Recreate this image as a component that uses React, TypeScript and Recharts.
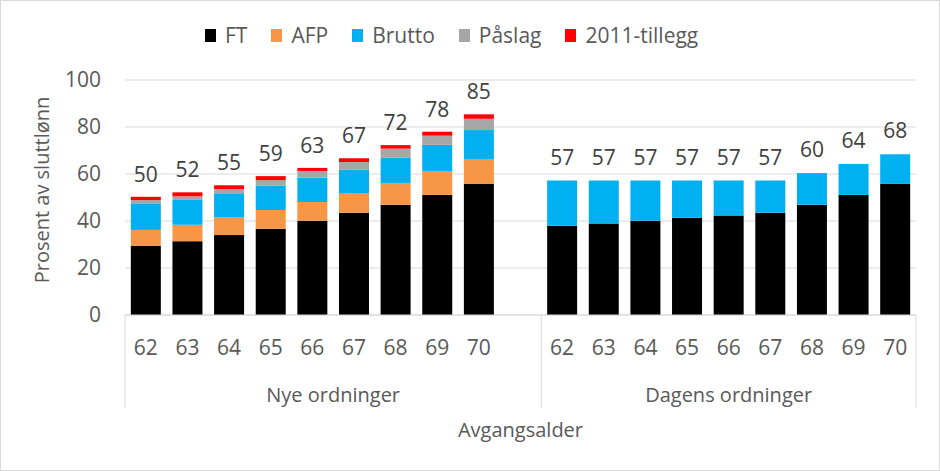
import React from 'react';
import { BarChart, Bar, XAxis, YAxis, CartesianGrid, Legend, LabelList } from 'recharts';

const FONT = '"Open Sans", sans-serif';
const TEXT = '#595959';

const ages = ['62', '63', '64', '65', '66', '67', '68', '69', '70'];
const groups = ['Nye ordninger', 'Dagens ordninger'];
const xTitle = 'Avgangsalder';
const yTitle = 'Prosent av sluttlønn';
const yTicks = [0, 20, 40, 60, 80, 100];

// Nye ordninger
const nyeFT = [29.5, 31.4, 34.0, 36.7, 40.1, 43.5, 46.9, 51.1, 55.8];
const nyeAFP = [6.7, 7.0, 7.5, 8.0, 8.0, 8.4, 9.3, 10.2, 10.6];
const nyeBrutto = [11.3, 10.8, 10.3, 10.3, 10.3, 9.9, 10.7, 11.1, 12.3];
const nyePaslag = [1.4, 1.3, 1.8, 2.4, 2.9, 3.3, 3.9, 3.9, 4.8];
const nyeTillegg = [1.4, 1.7, 1.6, 1.7, 1.3, 1.6, 1.5, 1.7, 1.9];
const nyeTotal = [50, 52, 55, 59, 63, 67, 72, 78, 85];

// Dagens ordninger
const dagensFT = [38.0, 38.9, 40.1, 41.4, 42.3, 43.5, 46.9, 51.1, 55.8];
const dagensBrutto = [19.2, 18.3, 17.1, 15.8, 14.9, 13.7, 13.5, 13.2, 12.6];
const dagensTotal = [57, 57, 57, 57, 57, 57, 60, 64, 68];

const series = [
  { key: 'ft', name: 'FT', color: '#000000' },
  { key: 'afp', name: 'AFP', color: '#F79646' },
  { key: 'brutto', name: 'Brutto', color: '#00B0F0' },
  { key: 'paslag', name: 'Påslag', color: '#A6A6A6' },
  { key: 'tillegg', name: '2011-tillegg', color: '#FF0000' },
];

const data = [
  ...ages.map((age, i) => ({
    age,
    ft: nyeFT[i],
    afp: nyeAFP[i],
    brutto: nyeBrutto[i],
    paslag: nyePaslag[i],
    tillegg: nyeTillegg[i],
    totalNye: nyeTotal[i],
  })),
  { age: '' },
  ...ages.map((age, i) => ({
    age,
    ft: dagensFT[i],
    brutto: dagensBrutto[i],
    totalDagens: dagensTotal[i],
  })),
];

const GroupTick = (props: any) => {
  const { x, y, payload } = props;
  const index = props.index ?? payload?.index;
  const half = payload?.offset || 20.8;
  const last = data.length - 1;
  return (
    <g>
      <text x={x} y={y + 40} textAnchor="middle" fill={TEXT} fontSize={21} fontFamily={FONT}>
        {payload.value}
      </text>
      {index === 0 && <line x1={x - half} x2={x - half} y1={y} y2={y + 93} stroke="#d9d9d9" />}
      {index === 10 && <line x1={x - half} x2={x - half} y1={y} y2={y + 93} stroke="#d9d9d9" />}
      {index === last && <line x1={x + half} x2={x + half} y1={y} y2={y + 93} stroke="#d9d9d9" />}
      {index === 4 && (
        <text x={x + half} y={y + 87} textAnchor="middle" fill={TEXT} fontSize={20} fontFamily={FONT}>
          {groups[0]}
        </text>
      )}
      {index === 14 && (
        <text x={x} y={y + 87} textAnchor="middle" fill={TEXT} fontSize={20} fontFamily={FONT}>
          {groups[1]}
        </text>
      )}
      {index === 9 && (
        <text x={x} y={y + 122} textAnchor="middle" fill={TEXT} fontSize={20} fontFamily={FONT}>
          {xTitle}
        </text>
      )}
    </g>
  );
};

const renderLegend = () => (
  <div style={{ display: 'flex', alignItems: 'center', fontFamily: FONT, fontSize: 21, color: TEXT, lineHeight: '30px' }}>
    {series.map((s) => (
      <div key={s.key} style={{ display: 'flex', alignItems: 'center', marginRight: 24 }}>
        <span style={{ display: 'inline-block', width: 11, height: 13, background: s.color, marginRight: 9 }} />
        <span>{s.name}</span>
      </div>
    ))}
  </div>
);

const App: React.FC = () => {
  return (
    <div
      style={{
        position: 'absolute',
        left: 0,
        top: 0,
        width: 940,
        height: 471,
        background: '#fff',
        border: '1px solid #d9d9d9',
        boxSizing: 'border-box',
      }}
    >
      <BarChart
        width={940}
        height={471}
        data={data}
        margin={{ top: 80, right: 24, bottom: 0, left: 0 }}
        barCategoryGap="14%"
        style={{ position: 'absolute', left: -1, top: -1 }}
      >
        <CartesianGrid vertical={false} stroke="#d9d9d9" />
        <XAxis
          dataKey="age"
          interval={0}
          height={156}
          tickLine={false}
          tickSize={0}
          tickMargin={0}
          axisLine={{ stroke: '#d9d9d9' }}
          tick={<GroupTick />}
        />
        <YAxis
          width={125}
          domain={[0, 100]}
          ticks={yTicks}
          axisLine={false}
          tickLine={false}
          tickSize={0}
          tickMargin={24}
          tick={{ fill: TEXT, fontSize: 21, fontFamily: FONT }}
          label={{
            content: () => (
              <text
                x={49}
                y={190}
                transform="rotate(-90, 49, 190)"
                textAnchor="middle"
                fill={TEXT}
                fontSize={20}
                fontFamily={FONT}
              >
                {yTitle}
              </text>
            ),
          }}
        />
        <Legend content={renderLegend} verticalAlign="middle" wrapperStyle={{ top: 20, left: 205, width: 'auto' }} />
        {series.map((s) => (
          <Bar key={s.key} dataKey={s.key} name={s.name} stackId="a" fill={s.color} isAnimationActive={false}>
            {s.key === 'brutto' && (
              <LabelList dataKey="totalDagens" position="top" offset={16} fill="#404040" fontSize={21} fontFamily={FONT} />
            )}
            {s.key === 'tillegg' && (
              <LabelList dataKey="totalNye" position="top" offset={15} fill="#404040" fontSize={21} fontFamily={FONT} />
            )}
          </Bar>
        ))}
      </BarChart>
    </div>
  );
};

export default App;
